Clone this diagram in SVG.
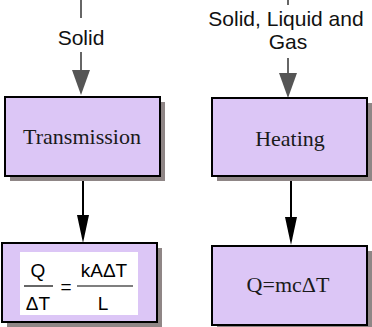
<svg xmlns="http://www.w3.org/2000/svg" width="372" height="327" viewBox="0 0 372 327">
<defs>
<style>
.box{fill:#dcc6f6;stroke:#000;stroke-width:2}
.shadow{fill:#8f8686}
.serif{font-family:"Liberation Serif","Times New Roman",serif;font-size:22px;fill:#1a1a1a;text-anchor:middle}
.sans{font-family:"Liberation Sans",Arial,sans-serif;font-size:21px;fill:#111;text-anchor:middle}
.eq{font-family:"Liberation Sans",Arial,sans-serif;font-size:19px;fill:#000;text-anchor:middle}
.gl{stroke:#666;stroke-width:2;fill:none}
.bl{stroke:#000;stroke-width:2;fill:none}
</style>
</defs>
<rect width="372" height="327" fill="#fff"/>
<g id="connectors">
<line class="gl" x1="81" y1="0" x2="81" y2="18"/>
<line class="gl" x1="81" y1="52" x2="81" y2="72"/>
<polygon points="72,70 90,70 81,95" fill="#555"/>
<text class="sans" x="81" y="45">Solid</text>
<line class="gl" x1="288" y1="0" x2="288" y2="5"/>
<line class="gl" x1="288" y1="58" x2="288" y2="75"/>
<polygon points="279,73 297,73 288,98" fill="#555"/>
<text class="sans" x="286" y="26">Solid, Liquid and</text>
<text class="sans" x="288" y="49">Gas</text>
<line class="bl" x1="83" y1="176" x2="83" y2="218"/>
<polygon points="77,215 89,215 83,243" fill="#000"/>
<line class="bl" x1="291" y1="177" x2="291" y2="220"/>
<polygon points="285,217 297,217 291,245" fill="#000"/>
</g>
<g id="transmission">
<rect class="shadow" x="10" y="102" width="155" height="79"/>
<rect class="box" x="5" y="97" width="155" height="79"/>
<text class="serif" x="82" y="144">Transmission</text>
</g>
<g id="heating">
<rect class="shadow" x="217" y="103" width="155" height="78"/>
<rect class="box" x="212" y="98" width="155" height="78"/>
<text class="serif" x="290" y="146">Heating</text>
</g>
<g id="formula1">
<rect class="shadow" x="7" y="248" width="155" height="79"/>
<rect class="box" x="2" y="243" width="155" height="79"/>
<rect x="20" y="252" width="118" height="63" fill="#fff"/>
<text class="eq" x="38" y="277">Q</text>
<line x1="24" y1="286" x2="53" y2="286" stroke="#000" stroke-width="1.2"/>
<text class="eq" x="38" y="310">ΔT</text>
<text class="eq" x="66" y="293">=</text>
<text class="eq" x="104" y="277">kAΔT</text>
<line x1="77" y1="286" x2="133" y2="286" stroke="#000" stroke-width="1.2"/>
<text class="eq" x="103" y="310">L</text>
</g>
<g id="formula2">
<rect class="shadow" x="217" y="251" width="155" height="79"/>
<rect class="box" x="212" y="246" width="155" height="79"/>
<text class="serif" x="288" y="292">Q=mcΔT</text>
</g>
</svg>
